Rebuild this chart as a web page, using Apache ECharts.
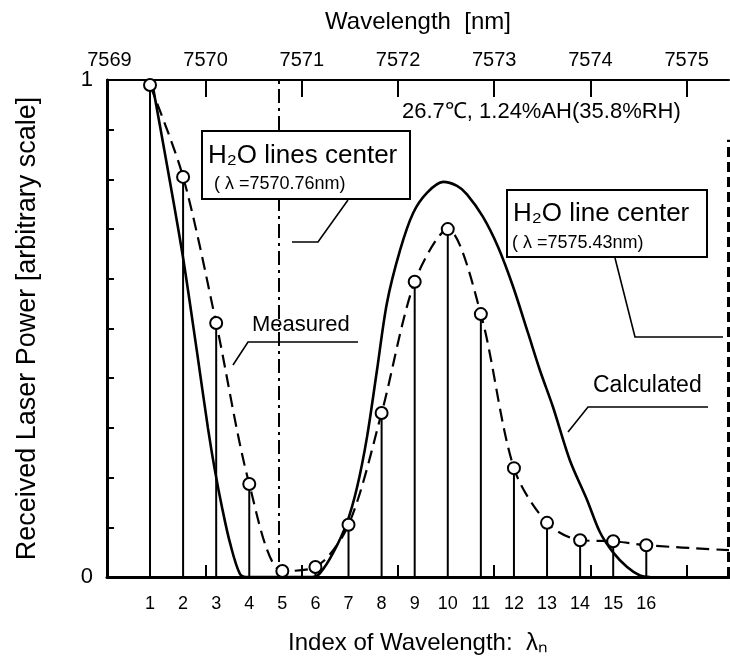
<!DOCTYPE html>
<html>
<head>
<meta charset="utf-8">
<script src="https://cdn.jsdelivr.net/npm/echarts@6/dist/echarts.min.js"></script>
<style>
  html, body { margin: 0; padding: 0; background: #fff; }
  #chart { width: 730px; height: 660px; }
</style>
</head>
<body>
<div id="chart"></div>
<script>
// index of wavelength (bottom axis) and measured received power
var indexList = [1, 2, 3, 4, 5, 6, 7, 8, 9, 10, 11, 12, 13, 14, 15, 16];
var measured = [0.99, 0.805, 0.511, 0.187, 0.012, 0.02, 0.105, 0.33, 0.594, 0.70, 0.529, 0.219, 0.109, 0.074, 0.072, 0.064];
// dashed guide keeps going to the right edge
var measuredTail = [18.5, 0.054];

// calculated curve
var calcIndex = [1.05, 1.54, 2.0, 2.42, 2.75, 2.96, 3.18, 3.42, 3.72, 3.96, 5.9,
  6.14, 6.53, 6.95, 7.26, 7.56, 7.86, 8.16, 8.56, 8.95, 9.37, 9.86, 10.28, 10.58,
  11.06, 11.52, 11.97, 12.43, 12.79, 13.18, 13.69, 14.21, 14.6, 14.99, 15.42, 15.81, 16.11];
var calcValue = [1.0, 0.819, 0.642, 0.453, 0.30, 0.215, 0.139, 0.068, 0.006, 0, 0,
  0.008, 0.048, 0.109, 0.181, 0.282, 0.416, 0.551, 0.658, 0.732, 0.773, 0.795, 0.787, 0.77,
  0.725, 0.664, 0.585, 0.49, 0.415, 0.342, 0.235, 0.155, 0.09, 0.05, 0.02, 0.003, 0];

// top axis (wavelength, nm)
var wavelengthLabels = [7569, 7570, 7571, 7572, 7573, 7574, 7575];
var wavelengthTicks = [7570, 7571, 7572, 7573, 7574, 7575];
// H2O line centres [nm]
var lineCenters = [7570.76, 7575.43];

var yTicks = [0.1, 0.2, 0.3, 0.4, 0.5, 0.6, 0.7, 0.8, 0.9];
var yLabels = [0, 1];

var font = 'Arial, "Liberation Sans", Helvetica, sans-serif';
var chart = echarts.init(document.getElementById('chart'));

var measuredData = indexList.map(function (x, i) { return [x, measured[i]]; });
var calcData = calcIndex.map(function (x, i) { return [x, calcValue[i]]; });

function txt(x, y, text, size) {
  return {
    type: 'text', x: x, y: y, z: 101,
    style: { text: text, fontSize: size, fontFamily: font, fill: '#000', align: 'left', verticalAlign: 'middle' }
  };
}
function leader(points) {
  return { type: 'polyline', z: 101, shape: { points: points }, style: { stroke: '#000', lineWidth: 1.6, fill: null } };
}

var option = {
  backgroundColor: '#ffffff',
  animation: false,
  textStyle: { fontFamily: font, color: '#000' },
  grid: { left: 107, right: 1, top: 80, bottom: 83, outerBoundsMode: 'none' },
  xAxis: [
    {
      type: 'value', position: 'bottom', min: -0.3, max: 18.5,
      name: 'Index of Wavelength:  λₙ', nameLocation: 'middle', nameGap: 54,
      nameTextStyle: { fontSize: 24, color: '#000', fontFamily: font },
      axisLine: { show: true, onZero: false, lineStyle: { color: '#000', width: 3 } },
      axisTick: { show: false },
      axisLabel: { customValues: indexList, fontSize: 18, color: '#000', margin: 18 },
      splitLine: { show: false }
    },
    {
      type: 'value', position: 'top', min: 7568.975, max: 7575.44,
      name: 'Wavelength  [nm]', nameLocation: 'middle', nameGap: 46,
      nameTextStyle: { fontSize: 24, color: '#000', fontFamily: font },
      axisLine: { show: true, onZero: false, lineStyle: { color: '#000', width: 2 } },
      axisTick: { show: true, inside: true, length: 17, customValues: wavelengthTicks, lineStyle: { color: '#000', width: 2 } },
      axisLabel: {
        customValues: wavelengthLabels, fontSize: 20, color: '#000', margin: 10,
        formatter: function (v) { return String(Math.round(v)); }
      },
      splitLine: { show: false }
    },
    {
      // wavelength ticks repeated along the bottom
      type: 'value', position: 'bottom', min: 7568.975, max: 7575.44,
      axisLine: { show: false, onZero: false },
      axisTick: { show: true, inside: true, length: 12, customValues: wavelengthTicks, lineStyle: { color: '#000', width: 2 } },
      axisLabel: { show: false },
      splitLine: { show: false }
    }
  ],
  yAxis: {
    type: 'value', min: 0, max: 1, position: 'left',
    name: 'Received Laser Power [arbitrary scale]', nameLocation: 'middle', nameGap: 66,
    nameTextStyle: { fontSize: 27, color: '#000', fontFamily: font },
    axisLine: { show: true, onZero: false, lineStyle: { color: '#000', width: 3 } },
    axisTick: { show: true, inside: true, length: 7, customValues: yTicks, lineStyle: { color: '#000', width: 2 } },
    axisLabel: { customValues: yLabels, fontSize: 22, color: '#000', margin: 14 },
    splitLine: { show: false }
  },
  series: [
    {
      // stems under the measured points
      type: 'custom', xAxisIndex: 0, yAxisIndex: 0, z: 2,
      data: measuredData,
      renderItem: function (params, api) {
        var top = api.coord([api.value(0), api.value(1)]);
        var base = api.coord([api.value(0), 0]);
        return {
          type: 'line',
          shape: { x1: top[0], y1: top[1], x2: base[0], y2: base[1] },
          style: { stroke: '#000', lineWidth: 2 }
        };
      }
    },
    {
      name: 'Calculated', type: 'line', xAxisIndex: 0, z: 3,
      data: calcData, smooth: 0.3, symbol: 'none',
      lineStyle: { color: '#000', width: 2.6 }
    },
    {
      name: 'Measured', type: 'line', xAxisIndex: 0, z: 4,
      data: measuredData.concat([{ value: measuredTail, symbol: 'none' }]),
      smooth: 0.3, symbol: 'circle', symbolSize: 12,
      itemStyle: { color: '#fff', borderColor: '#000', borderWidth: 2 },
      lineStyle: { color: '#000', width: 2.2, type: [13, 7] }
    },
    {
      type: 'line', xAxisIndex: 1, data: [], z: 3,
      markLine: {
        silent: true, symbol: ['none', 'none'], label: { show: false },
        data: [
          [{ coord: [lineCenters[0], 0.03], lineStyle: { color: '#000', width: 2, type: [14, 5, 3, 5] } },
           { coord: [lineCenters[0], 1] }],
          [{ coord: [lineCenters[1], 0], lineStyle: { color: '#000', width: 3, type: [10, 5] } },
           { coord: [lineCenters[1], 0.88] }]
        ]
      }
    }
  ],
  graphic: [
    { type: 'rect', z: 100, shape: { x: 202, y: 131, width: 208, height: 68 },
      style: { fill: '#fff', stroke: '#000', lineWidth: 2 } },
    txt(208, 156, 'H₂O lines center', 26),
    txt(214, 184, '( λ =7570.76nm)', 18),
    leader([[348, 200], [318, 242], [292, 242]]),

    { type: 'rect', z: 100, shape: { x: 507, y: 190, width: 200, height: 67 },
      style: { fill: '#fff', stroke: '#000', lineWidth: 2 } },
    txt(513, 214, 'H₂O line center', 26),
    txt(512, 243, '( λ =7575.43nm)', 18),
    leader([[615, 258], [635, 337], [723, 337]]),

    txt(402, 112, '26.7℃, 1.24%AH(35.8%RH)', 22),
    txt(252, 325, 'Measured', 22),
    leader([[358, 342], [248, 342], [233, 365]]),
    txt(593, 386, 'Calculated', 23),
    leader([[708, 407], [588, 407], [568, 432]])
  ]
};

chart.setOption(option);
</script>
</body>
</html>
